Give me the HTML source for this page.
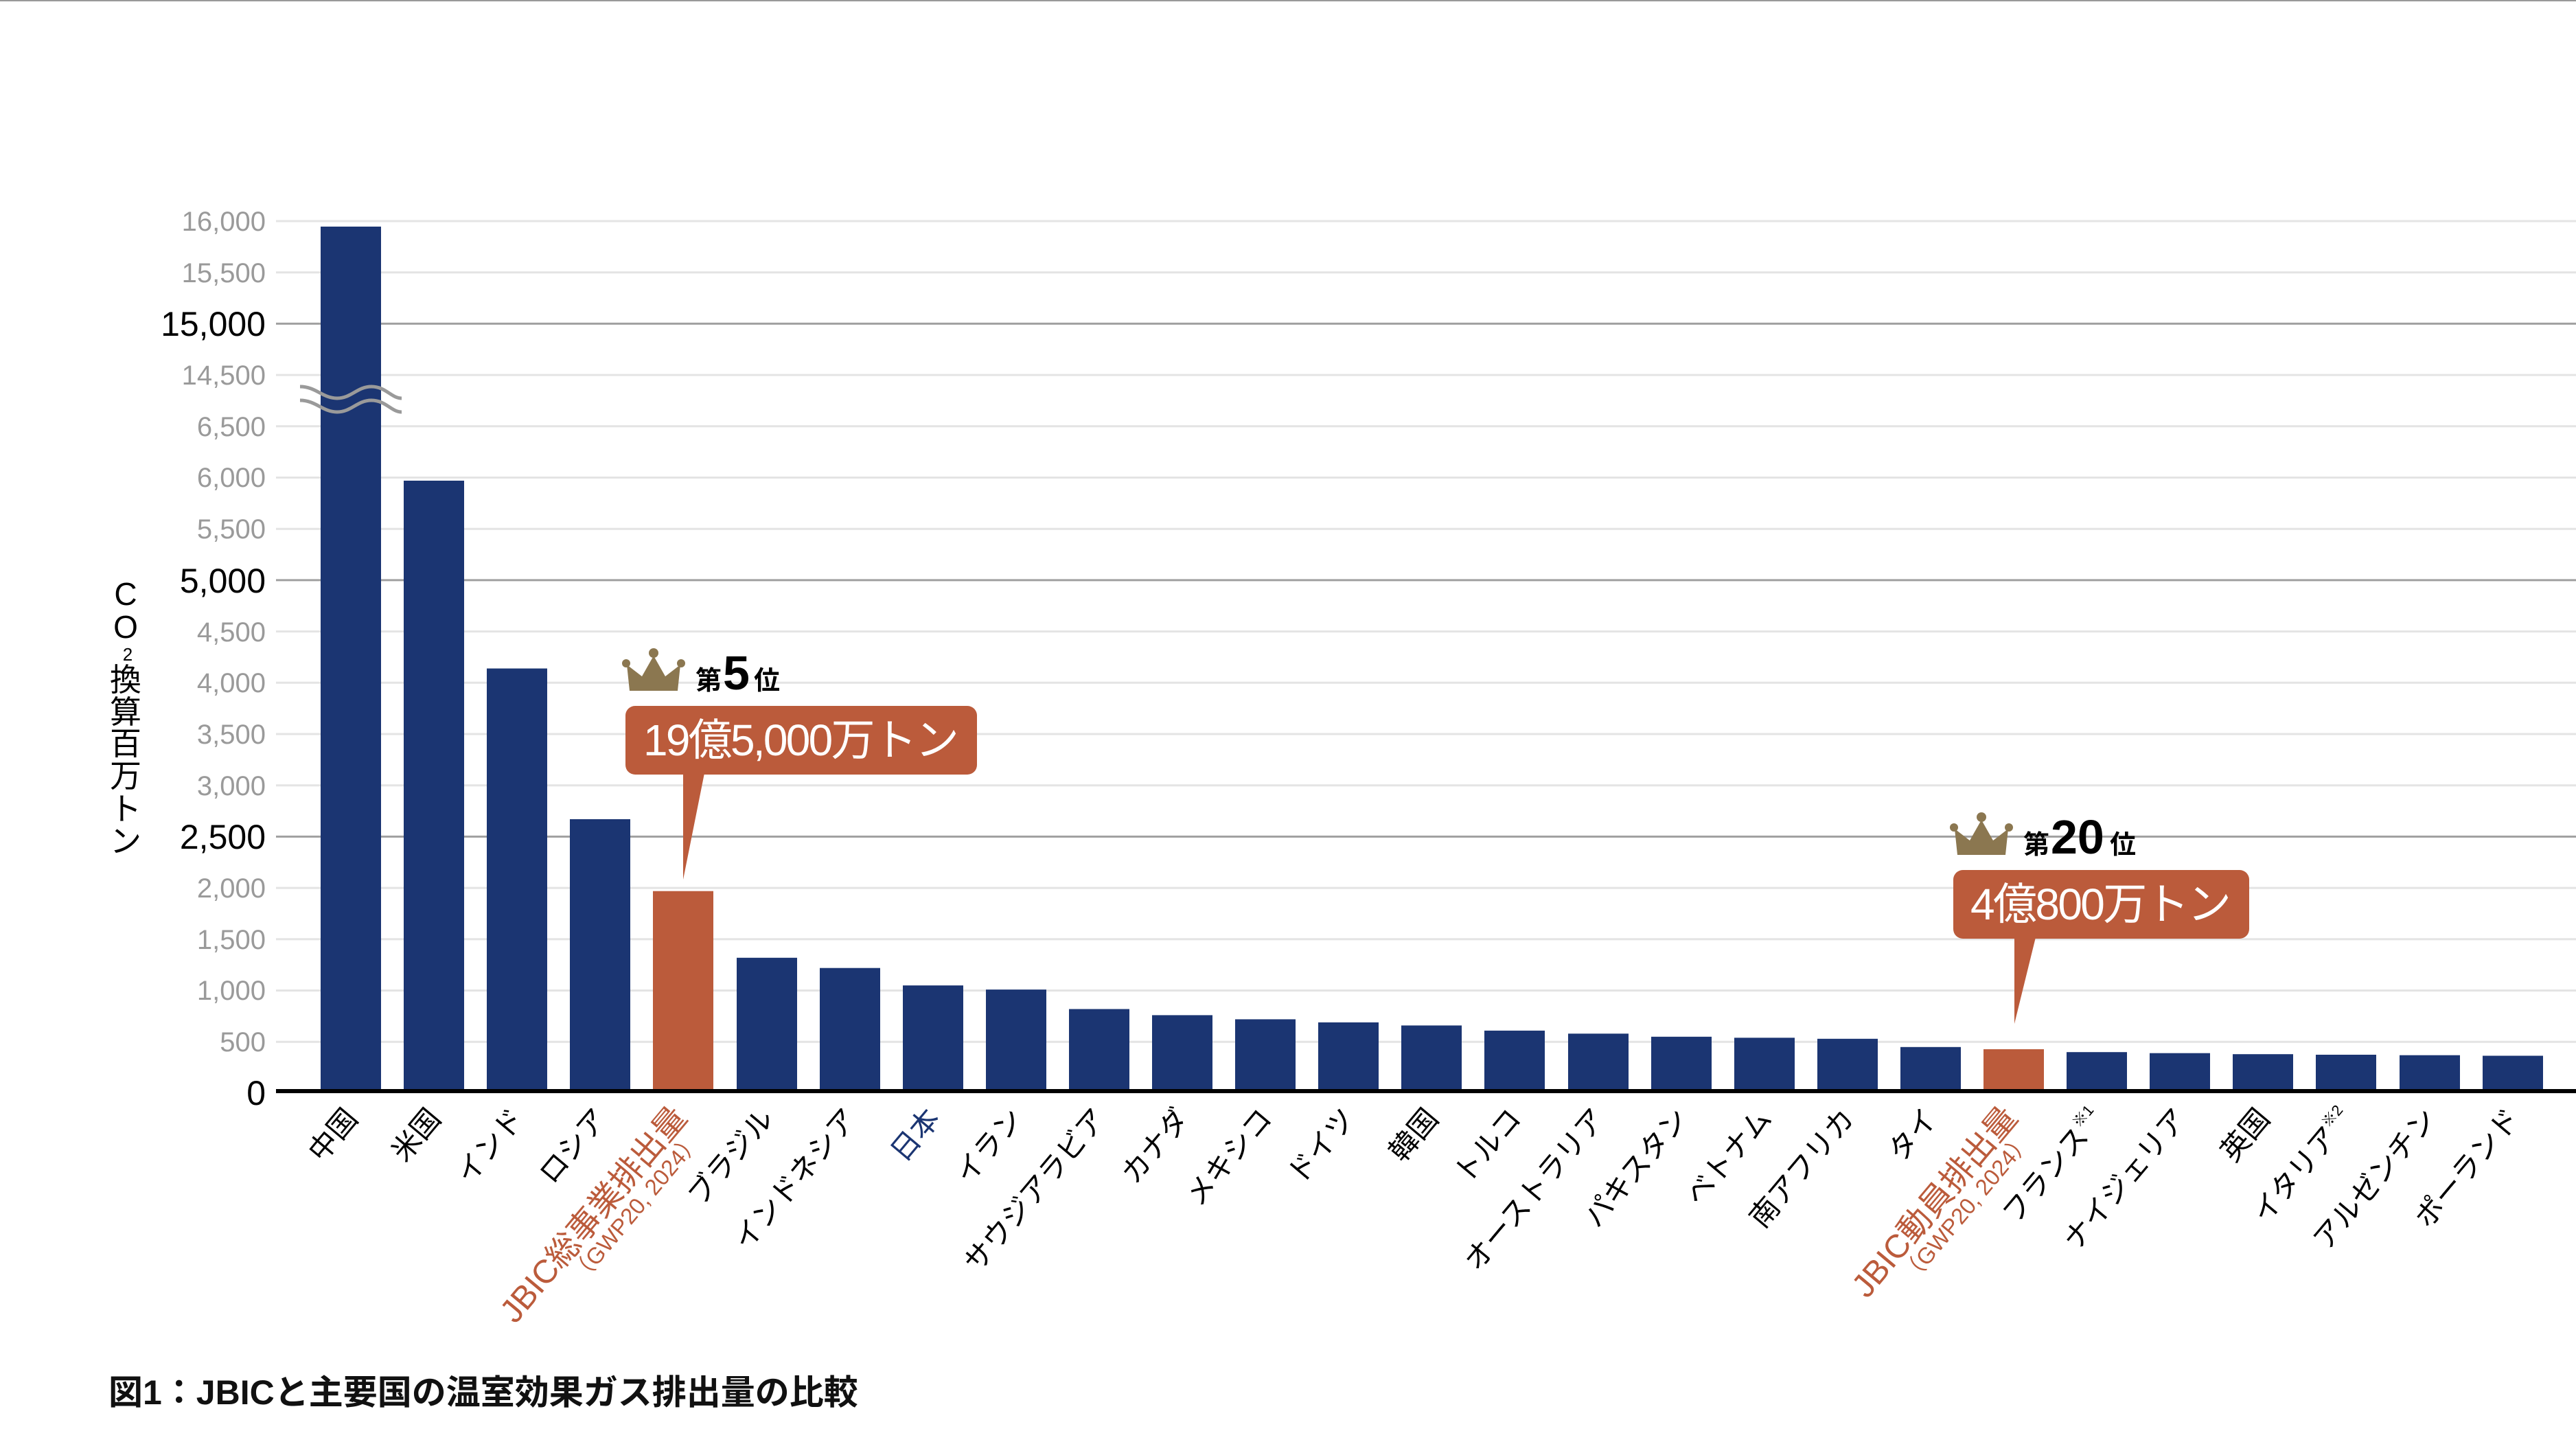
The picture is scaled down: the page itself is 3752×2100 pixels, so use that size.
<!DOCTYPE html>
<html><head><meta charset="utf-8"><style>
html,body{margin:0;padding:0;background:#fff;}
svg{display:block;}
text{font-family:"Liberation Sans","Noto Sans CJK JP",sans-serif;}
</style></head><body>
<svg width="3752" height="2100" viewBox="0 0 3752 2100" xmlns="http://www.w3.org/2000/svg">
<rect x="0" y="0" width="3752" height="2100" fill="#fff"/>
<line x1="0" y1="1" x2="3752" y2="1" stroke="#999" stroke-width="2"/>
<g stroke-width="3">
<line x1="402" y1="322" x2="3752" y2="322" stroke="#e4e4e4"/>
<line x1="402" y1="396.7" x2="3752" y2="396.7" stroke="#e4e4e4"/>
<line x1="402" y1="471.4" x2="3752" y2="471.4" stroke="#a0a0a0"/>
<line x1="402" y1="546.1" x2="3752" y2="546.1" stroke="#e4e4e4"/>
<line x1="402" y1="620.8" x2="3752" y2="620.8" stroke="#e4e4e4"/>
<line x1="402" y1="695.5" x2="3752" y2="695.5" stroke="#e4e4e4"/>
<line x1="402" y1="770.2" x2="3752" y2="770.2" stroke="#e4e4e4"/>
<line x1="402" y1="844.9" x2="3752" y2="844.9" stroke="#a0a0a0"/>
<line x1="402" y1="919.6" x2="3752" y2="919.6" stroke="#e4e4e4"/>
<line x1="402" y1="994.3" x2="3752" y2="994.3" stroke="#e4e4e4"/>
<line x1="402" y1="1069" x2="3752" y2="1069" stroke="#e4e4e4"/>
<line x1="402" y1="1143.7" x2="3752" y2="1143.7" stroke="#e4e4e4"/>
<line x1="402" y1="1218.4" x2="3752" y2="1218.4" stroke="#a0a0a0"/>
<line x1="402" y1="1293.1" x2="3752" y2="1293.1" stroke="#e4e4e4"/>
<line x1="402" y1="1367.8" x2="3752" y2="1367.8" stroke="#e4e4e4"/>
<line x1="402" y1="1442.5" x2="3752" y2="1442.5" stroke="#e4e4e4"/>
<line x1="402" y1="1517.2" x2="3752" y2="1517.2" stroke="#e4e4e4"/>
</g>
<g text-anchor="end">
<g font-size="40" fill="#9a9a9a">
<text x="387" y="336">16,000</text>
<text x="387" y="411">15,500</text>
<text x="387" y="560">14,500</text>
<text x="387" y="635">6,500</text>
<text x="387" y="709">6,000</text>
<text x="387" y="784">5,500</text>
<text x="387" y="934">4,500</text>
<text x="387" y="1008">4,000</text>
<text x="387" y="1083">3,500</text>
<text x="387" y="1158">3,000</text>
<text x="387" y="1307">2,000</text>
<text x="387" y="1382">1,500</text>
<text x="387" y="1456">1,000</text>
<text x="387" y="1531">500</text>
</g>
<g font-size="50" fill="#000">
<text x="387" y="489">15,000</text>
<text x="387" y="863">5,000</text>
<text x="387" y="1236">2,500</text>
<text x="387" y="1609">0</text>
</g>
</g>
<g fill="#1b3572">
<rect x="467" y="330" width="88" height="1257"/>
<rect x="588" y="700" width="88" height="887"/>
<rect x="709" y="973.5" width="88" height="613.5"/>
<rect x="830" y="1193" width="88" height="394"/>
<rect x="1073" y="1394.8" width="88" height="192.2"/>
<rect x="1194" y="1409.7" width="88" height="177.3"/>
<rect x="1315" y="1435.1" width="88" height="151.9"/>
<rect x="1436" y="1441.1" width="88" height="145.9"/>
<rect x="1557" y="1469.5" width="88" height="117.5"/>
<rect x="1678" y="1478.4" width="88" height="108.6"/>
<rect x="1799" y="1484.4" width="88" height="102.6"/>
<rect x="1920" y="1488.9" width="88" height="98.1"/>
<rect x="2041" y="1493.4" width="88" height="93.6"/>
<rect x="2162" y="1500.9" width="88" height="86.1"/>
<rect x="2284" y="1505.3" width="88" height="81.7"/>
<rect x="2405" y="1509.8" width="88" height="77.2"/>
<rect x="2526" y="1511.3" width="88" height="75.7"/>
<rect x="2647" y="1512.8" width="88" height="74.2"/>
<rect x="2768" y="1524.8" width="88" height="62.2"/>
<rect x="3010" y="1532.2" width="88" height="54.8"/>
<rect x="3131" y="1533.7" width="88" height="53.3"/>
<rect x="3252" y="1535.2" width="88" height="51.8"/>
<rect x="3373" y="1536" width="88" height="51"/>
<rect x="3495" y="1536.7" width="88" height="50.3"/>
<rect x="3616" y="1537.5" width="88" height="49.5"/>
</g>
<g fill="#bb5b3b">
<rect x="951" y="1297.7" width="88" height="289.3"/>
<rect x="2889" y="1528" width="88" height="59"/>
</g>
<line x1="402" y1="1589" x2="3752" y2="1589" stroke="#000" stroke-width="6"/>
<path d="M437,563 C460,563 470,580 491,580 C512,580 520,563 541,563 C562,563 570,580 585,580" fill="none" stroke="#9a9a9a" stroke-width="5"/>
<path d="M437,583 C460,583 470,600 491,600 C512,600 520,583 541,583 C562,583 570,600 585,600" fill="none" stroke="#9a9a9a" stroke-width="5"/>
<g font-size="42" fill="#000" text-anchor="end">
<text transform="translate(523,1630) rotate(-50)">中国</text>
<text transform="translate(644,1630) rotate(-50)">米国</text>
<text transform="translate(765,1630) rotate(-50)">インド</text>
<text transform="translate(886,1630) rotate(-50)">ロシア</text>
<text transform="translate(1129,1630) rotate(-50)">ブラジル</text>
<text transform="translate(1250,1630) rotate(-50)">インドネシア</text>
<text transform="translate(1371,1630) rotate(-50)" fill="#1b3572">日本</text>
<text transform="translate(1492,1630) rotate(-50)">イラン</text>
<text transform="translate(1613,1630) rotate(-50)">サウジアラビア</text>
<text transform="translate(1734,1630) rotate(-50)">カナダ</text>
<text transform="translate(1855,1630) rotate(-50)">メキシコ</text>
<text transform="translate(1976,1630) rotate(-50)">ドイツ</text>
<text transform="translate(2097,1630) rotate(-50)">韓国</text>
<text transform="translate(2218,1630) rotate(-50)">トルコ</text>
<text transform="translate(2340,1630) rotate(-50)">オーストラリア</text>
<text transform="translate(2461,1630) rotate(-50)">パキスタン</text>
<text transform="translate(2582,1630) rotate(-50)">ベトナム</text>
<text transform="translate(2703,1630) rotate(-50)">南アフリカ</text>
<text transform="translate(2824,1630) rotate(-50)">タイ</text>
<text transform="translate(3066,1630) rotate(-50)">フランス<tspan font-size="22" dy="-20">※1</tspan></text>
<text transform="translate(3187,1630) rotate(-50)">ナイジェリア</text>
<text transform="translate(3308,1630) rotate(-50)">英国</text>
<text transform="translate(3429,1630) rotate(-50)">イタリア<tspan font-size="22" dy="-20">※2</tspan></text>
<text transform="translate(3551,1630) rotate(-50)">アルゼンチン</text>
<text transform="translate(3672,1630) rotate(-50)">ポーランド</text>
</g>
<g fill="#bb5b3b" text-anchor="end">
<g transform="translate(1007,1630) rotate(-50)">
<text x="-2" y="-4" font-size="48">JBIC総事業排出量</text>
<text x="-14" y="32" font-size="33">（GWP20, 2024）</text>
</g>
<g transform="translate(2945,1630) rotate(-50)">
<text x="-2" y="-4" font-size="48">JBIC動員排出量</text>
<text x="-14" y="32" font-size="33">（GWP20, 2024）</text>
</g>
</g>
<g font-size="46" fill="#000" text-anchor="middle">
<text x="183" y="881">C</text>
<text x="183" y="929">O</text>
<text x="186" y="962" font-size="26">2</text>
<text x="183" y="1006">換</text>
<text x="183" y="1053">算</text>
<text x="183" y="1099">百</text>
<text x="183" y="1146">万</text>
<text x="183" y="1194">ト</text>
<text x="183" y="1241">ン</text>
</g>
<g fill="#8b7750">
<path d="M917,1006 L913,968 L935,985 L952,955 L969,985 L991,968 L987,1006 Z"/>
<circle cx="912" cy="966" r="6"/><circle cx="952" cy="951" r="7"/><circle cx="992" cy="966" r="6"/>
</g>
<text x="1013" y="1004" font-size="38" font-weight="bold" fill="#000">第</text>
<text x="1053" y="1004" font-size="70" font-weight="bold" fill="#000">5</text>
<text x="1098" y="1004" font-size="38" font-weight="bold" fill="#000">位</text>
<rect x="911" y="1028" width="512" height="100" rx="14" fill="#bb5b3b"/>
<path d="M995,1126 L1026,1126 L995,1281 Z" fill="#bb5b3b"/>
<text x="1167" y="1100" font-size="64" fill="#fff" text-anchor="middle" textLength="460">19億5,000万トン</text>
<g fill="#8b7750" transform="translate(1934,239)">
<path d="M917,1006 L913,968 L935,985 L952,955 L969,985 L991,968 L987,1006 Z"/>
<circle cx="912" cy="966" r="6"/><circle cx="952" cy="951" r="7"/><circle cx="992" cy="966" r="6"/>
</g>
<text x="2947" y="1243" font-size="38" font-weight="bold" fill="#000">第</text>
<text x="2987" y="1243" font-size="70" font-weight="bold" fill="#000">20</text>
<text x="3073" y="1243" font-size="38" font-weight="bold" fill="#000">位</text>
<rect x="2845" y="1267" width="431" height="100" rx="14" fill="#bb5b3b"/>
<path d="M2934,1365 L2965,1365 L2934,1491 Z" fill="#bb5b3b"/>
<text x="3060" y="1339" font-size="64" fill="#fff" text-anchor="middle" textLength="380">4億800万トン</text>
<text x="158" y="2045" font-size="50" font-weight="bold" fill="#111">図1：JBICと主要国の温室効果ガス排出量の比較</text>
</svg>
</body></html>
